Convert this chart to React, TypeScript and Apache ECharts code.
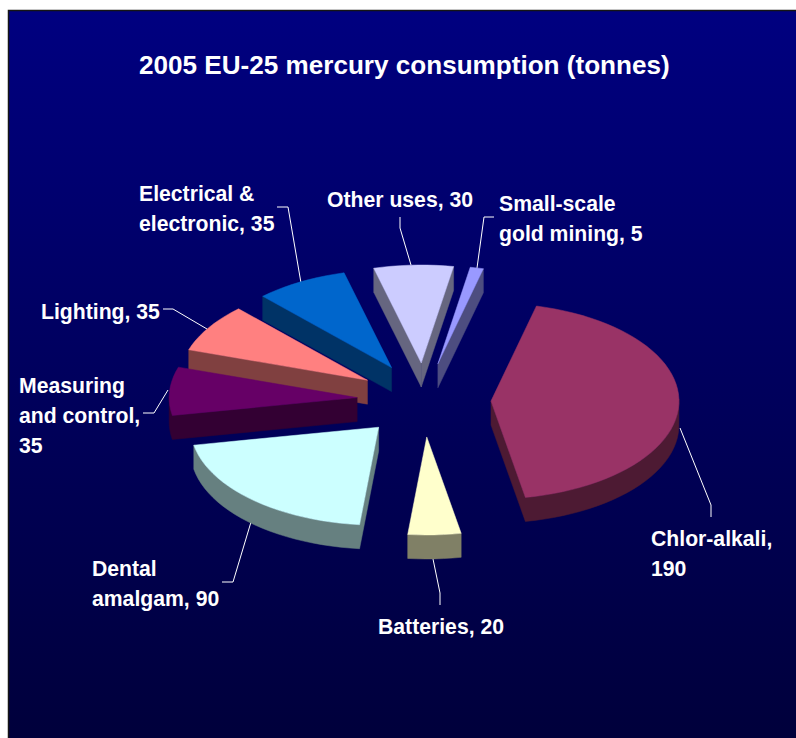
import React, { useEffect, useRef } from "react";
import * as echarts from "echarts";

const titleText = "2005 EU-25 mercury consumption (tonnes)";
const categories = [
  "Chlor-alkali",
  "Batteries",
  "Dental amalgam",
  "Measuring and control",
  "Lighting",
  "Electrical & electronic",
  "Other uses",
  "Small-scale gold mining",
];
const tonnes = [190, 20, 90, 35, 35, 35, 30, 5];
const topColors = ["#993366", "#FFFFCC", "#CCFFFF", "#660066", "#FF8080", "#0066CC", "#CCCCFF", "#9999FF"];
const wallColors = ["#4D1A33", "#808066", "#668080", "#330033", "#804040", "#003366", "#666680", "#4D4D80"];
const labelTexts = [
  "Chlor-alkali,\n190",
  "Batteries, 20",
  "Dental\namalgam, 90",
  "Measuring\nand control,\n35",
  "Lighting, 35",
  "Electrical &\nelectronic, 35",
  "Other uses, 30",
  "Small-scale\ngold mining, 5",
];
const labelPos = [
  [651, 523],
  [378, 611],
  [92, 553],
  [19, 370],
  [41, 296],
  [139, 178],
  [327, 184],
  [499, 188],
];
const leaders = [
  [[711, 517], [711, 505], [680, 428]],
  [[440, 605], [440, 593], [433, 559]],
  [[222, 582], [233, 582], [251, 522]],
  [[143, 413], [154, 413], [168, 390]],
  [[163, 309], [173, 309], [207, 329]],
  [[277, 207], [288, 207], [301, 283]],
  [[400, 217], [400, 228], [411, 265]],
  [[494, 217], [484, 217], [477, 268]],
];

const CX = 424;
const CY = 400;
const RX = 188;
const RY = 98;
const EXPLODE_X = 67;
const EXPLODE_Y = 37;
const DEPTH = 24;
const START_DEG = 14;

const total = tonnes.reduce((a, b) => a + b, 0);
const rad = (d: number) => (d * Math.PI) / 180;

function slicePoints(index: number) {
  let before = 0;
  for (let i = 0; i < index; i++) before += tonnes[i];
  const a1 = START_DEG + (before / total) * 360;
  const a2 = a1 + (tonnes[index] / total) * 360;
  const mid = (a1 + a2) / 2;
  const tx = CX + EXPLODE_X * Math.sin(rad(mid));
  const ty = CY - EXPLODE_Y * Math.cos(rad(mid));
  const pts: number[][] = [[tx, ty]];
  const steps = Math.max(3, Math.ceil((a2 - a1) / 3));
  for (let s = 0; s <= steps; s++) {
    const a = a1 + ((a2 - a1) * s) / steps;
    pts.push([tx + RX * Math.sin(rad(a)), ty - RY * Math.cos(rad(a))]);
  }
  return { pts, ty };
}

const renderSlice = (params: any, api: any) => {
  const i = params.dataIndex;
  void api.value(0);
  const { pts, ty } = slicePoints(i);
  const z2 = Math.round(ty);
  const children: any[] = [];
  const closed = [...pts, pts[0]];
  let run: number[][] = [];
  const flush = () => {
    if (run.length > 1) {
      const lower = run.map((p) => [p[0], p[1] + DEPTH]).reverse();
      children.push({
        type: "polygon",
        z2,
        shape: { points: [...run, ...lower] },
        style: { fill: wallColors[i], stroke: wallColors[i], lineWidth: 0.5 },
      });
    }
    run = [];
  };
  for (let k = 0; k < closed.length - 1; k++) {
    const p = closed[k];
    const q = closed[k + 1];
    if (q[0] < p[0]) {
      if (run.length === 0) run.push(p);
      run.push(q);
    } else {
      flush();
    }
  }
  flush();
  children.push({
    type: "polygon",
    z2: z2 + 1,
    shape: { points: pts },
    style: { fill: topColors[i], stroke: topColors[i], lineWidth: 0.5 },
  });
  return { type: "group", children };
};

export default function App() {
  const ref = useRef<HTMLDivElement>(null);
  useEffect(() => {
    if (!ref.current) return;
    const chart = echarts.init(ref.current, undefined, { renderer: "svg" });
    const font = "Liberation Sans, Arial, sans-serif";
    const graphic: any[] = [
      {
        type: "rect",
        z: 0,
        silent: true,
        shape: { x: 8.5, y: 10.5, width: 800, height: 740 },
        style: {
          fill: new echarts.graphic.LinearGradient(0, 0, 0, 1, [
            { offset: 0, color: "#000080" },
            { offset: 1, color: "#00003A" },
          ]),
          stroke: "#151515",
          lineWidth: 1.5,
        },
      },
      {
        type: "text",
        z: 5,
        x: 139,
        y: 52,
        style: { text: titleText, fill: "#fff", font: `bold 26.1px ${font}` },
      },
    ];
    leaders.forEach((pts) => {
      graphic.push({
        type: "polyline",
        z: 1,
        silent: true,
        shape: { points: pts },
        style: { stroke: "#ffffff", lineWidth: 1, fill: "none" },
      });
    });
    labelTexts.forEach((t, i) => {
      graphic.push({
        type: "text",
        z: 5,
        x: labelPos[i][0],
        y: labelPos[i][1],
        style: { text: t, fill: "#fff", font: `bold 21.2px ${font}`, lineHeight: 30 },
      });
    });
    chart.setOption({
      animation: false,
      backgroundColor: "#ffffff",
      graphic,
      series: [
        {
          type: "custom",
          coordinateSystem: "none",
          z: 3,
          silent: true,
          renderItem: renderSlice,
          data: tonnes.map((v, i) => ({ name: categories[i], value: [v] })),
        },
      ],
    });
    return () => chart.dispose();
  }, []);
  return (
    <div
      ref={ref}
      style={{ position: "absolute", left: 0, top: 0, width: 796, height: 738, overflow: "hidden" }}
    />
  );
}
